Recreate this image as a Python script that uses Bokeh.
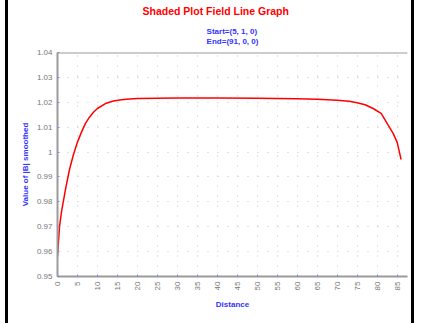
from bokeh.plotting import figure
from bokeh.embed import file_html
from bokeh.resources import INLINE
from bokeh.models import Title, FixedTicker, InlineStyleSheet, Range1d, Span

# data
distance = [0, 0.5, 1, 2, 3, 4, 5, 6, 7, 8, 9, 10, 12, 14, 16, 18, 20, 25, 30,
            40, 50, 60, 65, 70, 73, 75, 77, 79, 81, 82.5, 84, 85, 86]
b_smoothed = [0.958, 0.970, 0.976, 0.985, 0.993, 0.999, 1.004, 1.008, 1.0115,
              1.014, 1.016, 1.0175, 1.0195, 1.0205, 1.021, 1.0213, 1.0215,
              1.0216, 1.0217, 1.0217, 1.0216, 1.0214, 1.0212, 1.0208, 1.0204,
              1.0198, 1.019, 1.0175, 1.0155, 1.0115, 1.0075, 1.004, 0.997]
x_ticks = list(range(0, 90, 5))
y_ticks = [0.95, 0.96, 0.97, 0.98, 0.99, 1.0, 1.01, 1.02, 1.03, 1.04]
y_labels = {v: ("1" if abs(v - 1) < 1e-9 else ("%g" % v)) for v in y_ticks}

title_text = "Shaded Plot Field Line Graph"
sub1 = "Start=(5, 1, 0)"
sub2 = "End=(91, 0, 0)"

W, H = 409, 323
p = figure(width=W, height=H, output_backend="svg", toolbar_location=None,
           x_range=Range1d(0, 87.6), y_range=Range1d(0.95, 1.04),
           min_border_left=49, min_border_right=10,
           min_border_top=52, min_border_bottom=47)
p.stylesheets = [InlineStyleSheet(css=":host { margin-left: 5px; border-left: 3px solid black; border-right: 3px solid black; }")]
p.outline_line_color = None
p.background_fill_color = "white"
p.border_fill_color = "white"

grey = "#9a9a9a"
for ax in (p.xaxis[0], p.yaxis[0]):
    ax.axis_line_color = grey
    ax.axis_line_width = 2
    ax.major_tick_line_color = "#8080ff"
    ax.major_tick_in = 2
    ax.major_tick_out = 0
    ax.minor_tick_line_color = None
    ax.major_label_text_color = "#777777"
    ax.major_label_text_font = "Liberation Sans"
    ax.major_label_text_font_size = "8px"
    ax.axis_label_text_color = "#3333ff"
    ax.axis_label_text_font = "Liberation Sans"
    ax.axis_label_text_font_style = "bold"
    ax.axis_label_text_font_size = "8px"

p.xaxis.ticker = FixedTicker(ticks=x_ticks)
p.yaxis.ticker = FixedTicker(ticks=y_ticks)
p.yaxis.major_label_overrides = y_labels
p.xaxis.major_label_orientation = 1.5708
p.xaxis.axis_label = "Distance"
p.yaxis.axis_label = "Value of |B| smoothed"
p.xaxis.axis_label_standoff = 7
p.yaxis.axis_label_standoff = 4

# top frame line
p.add_layout(Span(location=1.04, dimension="width", line_color=grey, line_width=2))

p.xgrid.grid_line_color = "#c4c4c4"
p.ygrid.grid_line_color = "#c4c4c4"
p.xgrid.grid_line_dash = "1 9"
p.ygrid.grid_line_dash = "1 9"
p.xgrid.ticker = FixedTicker(ticks=x_ticks)
p.ygrid.ticker = FixedTicker(ticks=y_ticks)

p.line(distance, b_smoothed, line_color="red", line_width=1.5)

# titles
p.title.text = title_text
p.title.text_color = "red"
p.title.text_font = "Liberation Sans"
p.title.text_font_style = "bold"
p.title.text_font_size = "10.5px"
p.title.align = "left"
p.title.offset = 85
p.title.standoff = 3

p.add_layout(Title(text=sub1 + "\n" + sub2, text_color="#3333ff", text_font="Liberation Sans",
                   text_font_style="bold", text_font_size="8px", align="center",
                   text_line_height=1.2, standoff=12), "above")

open("out.html", "w").write(file_html(p, INLINE))
